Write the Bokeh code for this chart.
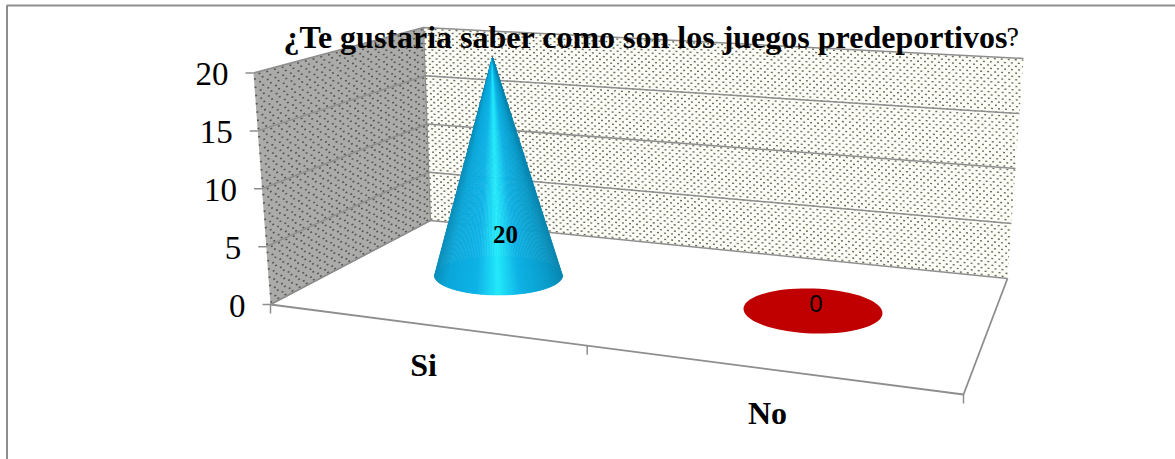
from bokeh.plotting import figure
from bokeh.models import Range1d
from bokeh.core.properties import value
from bokeh.embed import file_html
from bokeh.resources import INLINE
import numpy as np

title_main = "¿Te gustaria saber como son los juegos predeportivos"
title_tail = "?"
categories = ["Si", "No"]
values = [20, 0]
value_ticks = [0, 5, 10, 15, 20]
series_colors = ["#12B0E0", "#C00000"]

W, H = 1175, 459
SERIF = value("Liberation Serif")
GREY = "#8E8E8E"
VMAX = 20.0

# 3D box corners on the page
FL, BL, BR, FR = (270, 304), (430, 220), (1007, 278), (963, 394)
FL_T, BL_T, BR_T = (253, 72.5), (423, 27), (1023, 58)
CAT_U = [0, 0.457, 1]                    # perspective position of category boundaries
BASES = [(498, 275, 64, 19.5, 0.0), (812.5, 310.5, 69.5, 22.5, 0.035)]
APEX_LEAN = (-0.3, -10.9)                # page px per unit value


def lerp(a, b, t):
    return (a[0] + (b[0] - a[0]) * t, a[1] + (b[1] - a[1]) * t)


p = figure(width=W, height=H, output_backend="svg", toolbar_location=None,
           x_range=Range1d(0, W), y_range=Range1d(H, 0),
           min_border=0, outline_line_color=None,
           background_fill_color="white", border_fill_color="white")
p.xaxis.visible = False
p.yaxis.visible = False
p.grid.visible = False

# outer frame
p.line([6.5, 6.5, W], [H, 5, 5], line_color=GREY, line_width=2)

# walls and floor
p.patch([FL[0], BL[0], BL_T[0], FL_T[0]], [FL[1], BL[1], BL_T[1], FL_T[1]],
        fill_color="#ABABA9", line_color=None)
p.patch([BL[0], BR[0], BR_T[0], BL_T[0]], [BL[1], BR[1], BR_T[1], BL_T[1]],
        fill_color="#FDFDF8", line_color=None)
p.patch([FL[0], BL[0], BR[0], FR[0]], [FL[1], BL[1], BR[1], FR[1]],
        fill_color="white", line_color=None)


def dots(a0, b0, a1, b1, rows, color, dash, width):
    for off in (0, 1):
        xs, ys = [], []
        for r in range(off, rows, 2):
            t = (r + 0.5) / rows
            s, e = lerp(a0, a1, t), lerp(b0, b1, t)
            xs += [s[0], e[0], np.nan]
            ys += [s[1], e[1], np.nan]
        p.line(xs, ys, line_color=color, line_width=width,
               line_dash=dash, line_dash_offset=off * 3)


dots(BL, BR, BL_T, BR_T, 66, "#6E6E5A", "2 5", 1.4)
dots(FL, BL, FL_T, BL_T, 56, "#565654", "2 6", 1.5)

# gridlines from value ticks
for v in value_ticks:
    t = v / VMAX
    a, b, c = lerp(FL, FL_T, t), lerp(BL, BL_T, t), lerp(BR, BR_T, t)
    p.line([a[0], b[0], c[0]], [a[1], b[1], c[1]], line_color=GREY, line_width=1.5)
    p.line([a[0] - 8, a[0]], [a[1], a[1]], line_color=GREY, line_width=1.5)
    p.text([a[0] - 25], [a[1] + 1], text=[str(v)], text_font=SERIF, text_font_size="33px",
           text_align="right", text_baseline="middle", text_color="black")

# floor edges and category ticks
p.line([BL_T[0], BL[0], FL[0]], [BL_T[1], BL[1], FL[1]], line_color=GREY, line_width=1.2)
p.line([FL[0], FR[0], BR[0]], [FL[1], FR[1], BR[1]], line_color=GREY, line_width=1.8)
for u in CAT_U:
    q = lerp(FL, FR, u)
    p.line([q[0], q[0]], [q[1], q[1] + 9], line_color=GREY, line_width=1.5)

# cone colour ramp across the width
ramp_pos = [0, 0.1, 0.33, 0.5, 0.67, 0.9, 1]
ramp_r = [0x0C, 0x0C, 0x10, 0x25, 0x10, 0x0A, 0x0A]
ramp_g = [0x90, 0xA8, 0xB4, 0xEC, 0xB4, 0x9C, 0x88]
ramp_b = [0xBC, 0xDA, 0xE8, 0xFC, 0xE6, 0xCA, 0xB2]


def ramp(f):
    return "#%02x%02x%02x" % tuple(int(np.interp(f, ramp_pos, c)) for c in (ramp_r, ramp_g, ramp_b))


# cones from the values
for i, v in enumerate(values):
    cx, cy, a, b, tilt = BASES[i]
    ang = np.linspace(0, 2 * np.pi, 73)
    ex = cx + a * np.cos(ang) * np.cos(tilt) - b * np.sin(ang) * np.sin(tilt)
    ey = cy + a * np.cos(ang) * np.sin(tilt) + b * np.sin(ang) * np.cos(tilt)
    p.patch(ex, ey, fill_color=series_colors[i], line_color=None)
    if v > 0:
        ax, ay = cx + v * APEX_LEAN[0], cy + v * APEX_LEAN[1]
        th = np.linspace(np.pi, 0, 97)
        xs, ys, cols = [], [], []
        for k in range(len(th) - 1):
            x1, x2 = cx + a * np.cos(th[k]), cx + a * np.cos(th[k + 1])
            y1, y2 = cy + b * np.sin(th[k]), cy + b * np.sin(th[k + 1])
            xs.append([ax, x1, x2])
            ys.append([ay, y1, y2])
            cols.append(ramp(((x1 + x2) / 2 - (cx - a)) / (2 * a)))
        p.patches(xs, ys, fill_color=cols, line_color=cols, line_width=0.6)

# texts
p.text([505], [234], text=[str(values[0])], text_font=SERIF, text_font_size="25px",
       text_font_style="bold", text_align="center", text_baseline="middle", text_color="black")
p.text([815.5], [303], text=[str(values[1])], text_font=value("Liberation Sans"), text_font_size="24px",
       text_align="center", text_baseline="middle", text_color="black")
p.text([423, 767], [364, 412], text=categories, text_font=SERIF, text_font_size="32px",
       text_font_style="bold", text_align="center", text_baseline="middle", text_color="black")
p.text([283], [36], text=[title_main], text_font=SERIF, text_font_size="32px",
       text_font_style="bold", text_align="left", text_baseline="middle", text_color="black")
p.text([1006], [36], text=[title_tail], text_font=SERIF, text_font_size="28px",
       text_align="left", text_baseline="middle", text_color="black")

open("out.html", "w").write(file_html(p, INLINE))
